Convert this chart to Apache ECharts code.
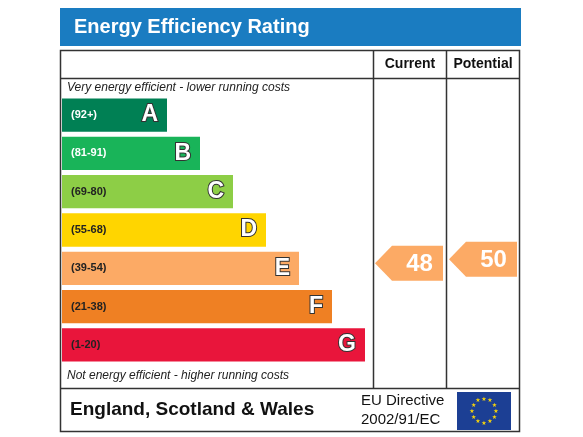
<!DOCTYPE html>
<html><head><meta charset="utf-8">
<script src="https://cdn.jsdelivr.net/npm/echarts@6/dist/echarts.min.js"></script>
<style>html,body{margin:0;background:#fff}#c{width:583px;height:437px}</style>
</head><body><div id="c"></div>
<script>
// bands, top to bottom
const bands = ['A', 'B', 'C', 'D', 'E', 'F', 'G'];
const ranges = ['(92+)', '(81-91)', '(69-80)', '(55-68)', '(39-54)', '(21-38)', '(1-20)'];
const barLen = [105, 138, 171, 204, 237, 270, 303];
const colors = ['#008054', '#19b459', '#8dce46', '#ffd500', '#fcaa65', '#ef8023', '#e9153b'];
const rangeColors = ['#fff', '#fff', '#222', '#222', '#222', '#222', '#222'];
const currentRating = 48;
const potentialRating = 50;

function bandOf(v) {
    if (v >= 92) return 'A';
    if (v >= 81) return 'B';
    if (v >= 69) return 'C';
    if (v >= 55) return 'D';
    if (v >= 39) return 'E';
    if (v >= 21) return 'F';
    return 'G';
}

const chart = echarts.init(document.getElementById('c'));

function arrow(params, api) {
    const x0 = api.value(0), x1 = api.value(1);
    const p0 = api.coord([x0, api.value(2)]);
    const p1 = api.coord([x1, api.value(2)]);
    const h = 35;
    const cy = p0[1] + api.value(3);
    const tip = 17;
    return {
        type: 'group',
        children: [{
            type: 'polygon',
            shape: { points: [[p0[0], cy], [p0[0] + tip, cy - h / 2], [p1[0], cy - h / 2], [p1[0], cy + h / 2], [p0[0] + tip, cy + h / 2]] },
            style: { fill: '#fcaa65' }
        }, {
            type: 'text',
            style: { text: String(api.value(4)), x: (p0[0] + tip + p1[0]) / 2 + 2, y: cy + 1, align: 'center', verticalAlign: 'middle',
                fill: '#fff', font: 'bold 24px Arial, "Liberation Sans"' }
        }]
    };
}

chart.setOption({
    animation: false,
    grid: { left: 62, width: 458, top: 96, height: 268 },
    xAxis: { type: 'value', min: 0, max: 458, show: false },
    yAxis: { type: 'category', data: bands, inverse: true, show: false },
    series: [{
        type: 'bar',
        barCategoryGap: '13%',
        data: barLen.map((v, i) => ({ value: v, itemStyle: { color: colors[i] }, label: { color: rangeColors[i] } })),
        label: {
            show: true, position: 'insideLeft', offset: [4, 0],
            formatter: p => ranges[p.dataIndex],
            fontSize: 11, fontWeight: 'bold', fontFamily: 'Arial, "Liberation Sans"'
        }
    }, {
        type: 'bar',
        barGap: '-100%',
        barCategoryGap: '13%',
        data: barLen.map(v => ({ value: v, itemStyle: { color: 'transparent' } })),
        label: {
            show: true, position: 'insideRight', offset: [-4, 0],
            formatter: p => bands[p.dataIndex],
            color: '#fff', fontSize: 23, fontWeight: 'bold', fontFamily: 'Arial, "Liberation Sans"',
            textBorderColor: '#333', textBorderWidth: 2
        }
    }, {
        type: 'custom',
        renderItem: arrow,
        data: [[313, 381, bandOf(currentRating), -5, currentRating], [387, 455, bandOf(potentialRating), -9, potentialRating]]
    }],
    graphic: [
        { type: 'rect', shape: { x: 60, y: 8, width: 461, height: 38 }, style: { fill: '#1a7cc1' } },
        { type: 'text', style: { text: 'Energy Efficiency Rating', x: 74, y: 27, verticalAlign: 'middle', fill: '#fff', font: 'bold 20px Arial, "Liberation Sans"' } },
        { type: 'rect', shape: { x: 60.5, y: 50.5, width: 459, height: 381 }, style: { fill: 'none', stroke: '#333', lineWidth: 1.5 } },
        { type: 'line', shape: { x1: 60, y1: 78.5, x2: 520, y2: 78.5 }, style: { stroke: '#333', lineWidth: 1.5 } },
        { type: 'line', shape: { x1: 60, y1: 388.5, x2: 520, y2: 388.5 }, style: { stroke: '#333', lineWidth: 1.5 } },
        { type: 'line', shape: { x1: 373.5, y1: 50, x2: 373.5, y2: 388 }, style: { stroke: '#333', lineWidth: 1.5 } },
        { type: 'line', shape: { x1: 446.5, y1: 50, x2: 446.5, y2: 388 }, style: { stroke: '#333', lineWidth: 1.5 } },
        { type: 'text', style: { text: 'Current', x: 410, y: 64, align: 'center', verticalAlign: 'middle', fill: '#111', font: 'bold 14px Arial, "Liberation Sans"' } },
        { type: 'text', style: { text: 'Potential', x: 483, y: 64, align: 'center', verticalAlign: 'middle', fill: '#111', font: 'bold 14px Arial, "Liberation Sans"' } },
        { type: 'text', style: { text: 'Very energy efficient - lower running costs', x: 67, y: 88, verticalAlign: 'middle', fill: '#222', font: 'italic 12px Arial, "Liberation Sans"' } },
        { type: 'text', style: { text: 'Not energy efficient - higher running costs', x: 67, y: 376, verticalAlign: 'middle', fill: '#222', font: 'italic 12px Arial, "Liberation Sans"' } },
        { type: 'text', style: { text: 'England, Scotland & Wales', x: 70, y: 410, verticalAlign: 'middle', fill: '#111', font: 'bold 19px Arial, "Liberation Sans"' } },
        { type: 'text', style: { text: 'EU Directive', x: 361, y: 401, verticalAlign: 'middle', fill: '#111', font: '15px Arial, "Liberation Sans"' } },
        { type: 'text', style: { text: '2002/91/EC', x: 361, y: 420, verticalAlign: 'middle', fill: '#111', font: '15px Arial, "Liberation Sans"' } },
        { type: 'rect', shape: { x: 457, y: 392, width: 54, height: 38 }, style: { fill: '#1c3f94' } }
    ].concat(Array.from({ length: 12 }, (_, i) => {
        const a = i * Math.PI / 6;
        return { type: 'text', style: { text: '★', x: 484 + 12 * Math.sin(a), y: 411 - 12 * Math.cos(a), align: 'center', verticalAlign: 'middle', fill: '#f5d30c', font: '6px "DejaVu Sans"' } };
    }))
});
</script></body></html>
